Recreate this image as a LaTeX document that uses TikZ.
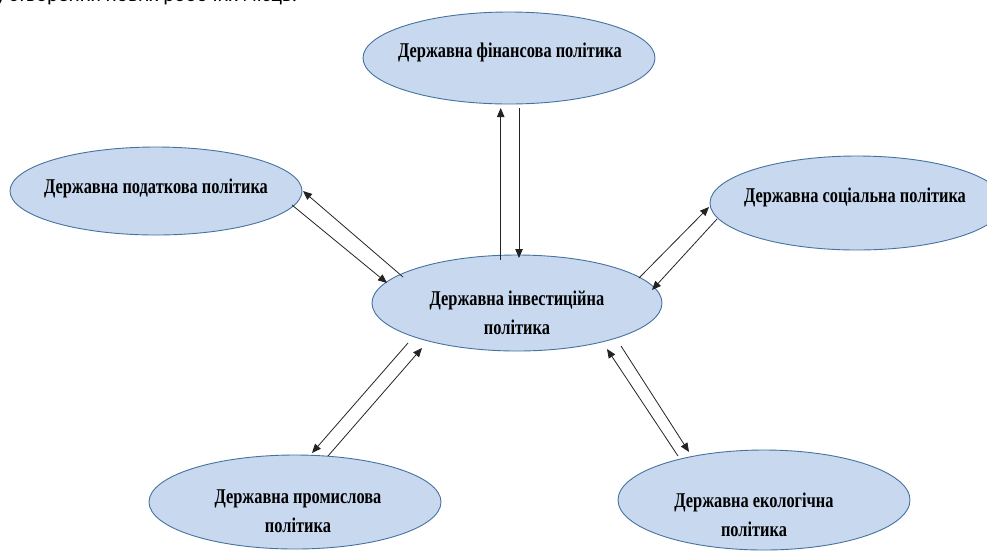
\documentclass[tikz,border=0pt]{standalone}
\usepackage{fontspec}
\setmainfont{Liberation Serif}
\newfontfamily\dfont[FakeStretch=0.78]{Liberation Serif}
\newfontfamily\bodyfont{Carlito}
\usetikzlibrary{shapes.geometric,arrows.meta}
\definecolor{efill}{RGB}{199,216,239}
\definecolor{edraw}{RGB}{70,114,160}
\definecolor{aline}{RGB}{35,35,35}
\tikzset{
  ell/.style={ellipse, draw=edraw, fill=efill, line width=0.9pt, inner sep=0pt},
  lbl/.style={font=\dfont\bfseries\fontsize{21}{29}\selectfont, align=center, inner sep=0pt},
  conn/.style={draw=aline, line width=0.8pt, -{Triangle[length=9pt,width=7.5pt]}}
}
\begin{document}
\begin{tikzpicture}[x=1pt,y=-1pt]
\useasboundingbox (0,0) rectangle (987,550);
\clip (0,0) rectangle (987,550);
% cut-off line of text at the top
\node[anchor=base west, inner sep=0pt, font=\bodyfont\fontsize{21}{25}\selectfont] (topline) at (-13,1.5) {3) створення нових робочих місць.};
% ellipses
\node[ell, minimum width=292pt, minimum height=92pt] (fin) at (509,58) {};
\node[ell, minimum width=292pt, minimum height=88pt] (tax) at (156,191) {};
\node[ell, minimum width=294pt, minimum height=94pt] (soc) at (857,203) {};
\node[ell, minimum width=290pt, minimum height=96pt] (inv) at (517,303) {};
\node[ell, minimum width=292pt, minimum height=94pt] (ind) at (295,502) {};
\node[ell, minimum width=292pt, minimum height=100pt] (eco) at (764,500) {};
% labels
\node[lbl] (finT) at (510,52) {Державна фінансова політика};
\node[lbl] (taxT) at (156,188) {Державна податкова політика};
\node[lbl] (socT) at (855,197) {Державна соціальна політика};
\node[lbl] (invT) at (517,313) {Державна інвестиційна\\політика};
\node[lbl] (indT) at (298,511) {Державна промислова\\політика};
\node[lbl] (ecoT) at (754,515) {Державна екологічна\\політика};
% connector end points
\coordinate (f1a) at (500.7,260); \coordinate (f1b) at (500.7,108);
\coordinate (f2a) at (519,108);   \coordinate (f2b) at (519,258);
\coordinate (t1a) at (403,277);   \coordinate (t1b) at (303,191);
\coordinate (t2a) at (292,205);   \coordinate (t2b) at (387,283);
\coordinate (s1a) at (639,278);   \coordinate (s1b) at (709,207);
\coordinate (s2a) at (717,219);   \coordinate (s2b) at (652,290);
\coordinate (i1a) at (408,343);   \coordinate (i1b) at (312,453);
\coordinate (i2a) at (328,456);   \coordinate (i2b) at (422,348);
\coordinate (e1a) at (678,456);   \coordinate (e1b) at (607,349);
\coordinate (e2a) at (621,346);   \coordinate (e2b) at (689,452);
% connectors
\draw[conn] (f1a) -- (f1b);
\draw[conn] (f2a) -- (f2b);
\draw[conn] (t1a) -- (t1b);
\draw[conn] (t2a) -- (t2b);
\draw[conn] (s1a) -- (s1b);
\draw[conn] (s2a) -- (s2b);
\draw[conn] (i1a) -- (i1b);
\draw[conn] (i2a) -- (i2b);
\draw[conn] (e1a) -- (e1b);
\draw[conn] (e2a) -- (e2b);
\end{tikzpicture}
\end{document}
